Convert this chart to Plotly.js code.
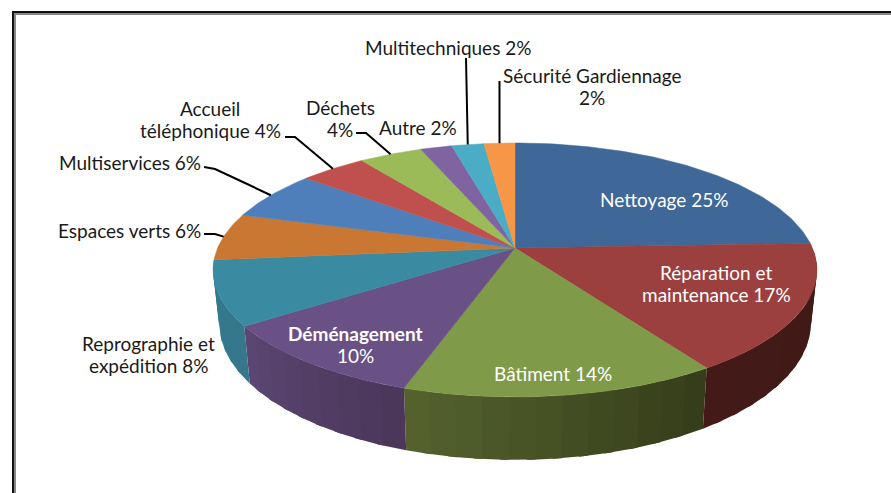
<!DOCTYPE html>
<html><head><meta charset="utf-8">
<script src="https://cdn.plot.ly/plotly-3.0.1.min.js"></script>
<style>html,body{margin:0;padding:0;background:#fff}#c{width:891px;height:493px}</style>
</head><body><div id="c"></div>
<script>
// Slice shares, clockwise from 12 o'clock
const categories = ["Nettoyage","Réparation et maintenance","Bâtiment","Déménagement","Reprographie et expédition","Espaces verts","Multiservices","Accueil téléphonique","Déchets","Autre","Multitechniques","Sécurité Gardiennage"];
const shares = [24.4,16.3,14.35,10.25,8.2,6,6.3,4.2,4,2,2.05,1.95];
const topColors = ["#3f6797","#9b403e","#7f9a48","#695185","#3a8aa2","#c97733","#4f7fbb","#c0504d","#9bbb59","#8064a2","#4bacc6","#f79646"];
const sideStart = ["#3f6797","#3f1a18","#343b19","#4a3659","#35788c","#a8642b","#4f7fbb","#c0504d","#9bbb59","#8064a2","#4bacc6","#f79646"];
const sideEnd   = ["#3f6797","#431a18","#55632e","#5c4673","#35788c","#a8642b","#4f7fbb","#c0504d","#9bbb59","#8064a2","#4bacc6","#f79646"];
const labels = [
 {t:"Multitechniques 2%",x:448,y:47,c:"#1a1a1a"},
 {t:"Sécurité Gardiennage|2%",x:592,y:86,c:"#1a1a1a"},
 {t:"Autre 2%",x:418,y:127,c:"#1a1a1a"},
 {t:"Déchets|4%",x:340,y:118,c:"#1a1a1a"},
 {t:"Accueil|téléphonique 4%",x:210,y:119,c:"#1a1a1a"},
 {t:"Multiservices 6%",x:130,y:162,c:"#1a1a1a"},
 {t:"Espaces verts 6%",x:129,y:230,c:"#1a1a1a"},
 {t:"Reprographie et|expédition 8%",x:148,y:354,c:"#1a1a1a"},
 {t:"Nettoyage 25%",x:664,y:199,c:"#fff"},
 {t:"Réparation et|maintenance 17%",x:716,y:283,c:"#fff"},
 {t:"Bâtiment 14%",x:553,y:373,c:"#fff"},
 {t:"Déménagement|10%",x:355,y:344,c:"#fff",bold:true}
];
// leader lines: slice index, then the pixel anchors near the label
const leaderSlices = [5,6,7,8,10,11];
const leaderX = [[204,215],[204,215,245],[285,295],[356,366],[466],[499.5]];
const leaderY = [[234,234],[167,169,183],[137,137],[133,133],[58],[81]];

// projection of the pie
const CX=515, CY=248, A=297.4, B=123.2, K=0.173, BOT_X=0.98, BOT_Y=1.08, BOT_C=299;
function topPt(p){const t=p/100*2*Math.PI,u=Math.sin(t),v=Math.cos(t),d=1+K*v;return [CX+A*u/d,CY-B*v/d];}
function botPt(p){const q=topPt(p);return [CX+BOT_X*(q[0]-CX),BOT_C+BOT_Y*(q[1]-CY)];}
function hex(c){return [1,3,5].map(i=>parseInt(c.substr(i,2),16));}
function mix(a,b,f){const x=hex(a),y=hex(b);return "rgb("+x.map((n,i)=>Math.round(n+(y[i]-n)*f)).join(",")+")";}

const traces=[];
const base={type:"scatter",mode:"lines",fill:"toself",hoverinfo:"skip",showlegend:false};
let cum=0;const starts=shares.map(s=>{const c=cum;cum+=s;return c;});
// sides (front-facing part)
const SIDE_MIN=24.41, SIDE_MAX=73.49;
shares.forEach((s,i)=>{
  const a=Math.max(starts[i],SIDE_MIN), b=Math.min(starts[i]+s,SIDE_MAX);
  if(b<=a) return;
  const n=Math.max(1,Math.ceil((b-a)/1.2));
  for(let j=0;j<n;j++){
    // each strip runs under the next one, so no seam shows between them
    const p0=a+(b-a)*j/n,p1=Math.min(b,a+(b-a)*(j+1)/n+0.4),xs=[],ys=[];
    for(let q=0;q<=6;q++){const r=topPt(p0+(p1-p0)*q/6);xs.push(r[0]);ys.push(r[1]);}
    for(let q=6;q>=0;q--){const r=botPt(p0+(p1-p0)*q/6);xs.push(r[0]);ys.push(r[1]);}
    const col=mix(sideStart[i],sideEnd[i],(j+.5)/n);
    traces.push(Object.assign({},base,{x:xs,y:ys,fillcolor:col,line:{width:0}}));
  }
});
// top face
shares.forEach((s,i)=>{
  const xs=[CX],ys=[CY],n=Math.ceil(s*4);
  for(let q=0;q<=n;q++){const r=topPt(starts[i]+s*q/n);xs.push(r[0]);ys.push(r[1]);}
  xs.push(CX);ys.push(CY);
  traces.push(Object.assign({},base,{name:categories[i],x:xs,y:ys,fillcolor:topColors[i],line:{color:topColors[i],width:.5}}));
});
// leaders
leaderSlices.forEach((si,i)=>{
  const e=topPt(starts[si]+shares[si]/2);
  traces.push({type:"scatter",mode:"lines",hoverinfo:"skip",showlegend:false,
    x:leaderX[i].concat([e[0]]),y:leaderY[i].concat([e[1]]),line:{color:"#000",width:2}});
});
const LINE_GAP=22;
const annotations=[];
labels.forEach(l=>{
  const parts=l.t.split("|");
  parts.forEach((txt,k)=>annotations.push({text:l.bold&&k==0?"<b>"+txt+"</b>":txt,x:l.x,y:l.y+(k-(parts.length-1)/2)*LINE_GAP,
    xref:"x",yref:"y",showarrow:false,xanchor:"center",yanchor:"middle",
    font:{family:"Lato, Carlito, sans-serif",size:19,color:l.c}}));
});
const layout={
  width:891,height:493,margin:{l:0,r:0,t:0,b:0},paper_bgcolor:"#fff",plot_bgcolor:"#fff",showlegend:false,
  xaxis:{range:[0,891],visible:false,fixedrange:true},
  yaxis:{range:[493,0],visible:false,fixedrange:true},
  annotations:annotations,
  shapes:[
   {type:"line",xref:"x",yref:"y",x0:12,x1:891,y0:12,y1:12,line:{color:"#111",width:2}},
   {type:"line",xref:"x",yref:"y",x0:14,x1:891,y0:14,y1:14,line:{color:"#888",width:2}},
   {type:"line",xref:"x",yref:"y",x0:13,x1:13,y0:11,y1:493,line:{color:"#111",width:2}},
   {type:"line",xref:"x",yref:"y",x0:15,x1:15,y0:13,y1:493,line:{color:"#888",width:2}}
  ]
};
Plotly.newPlot("c",traces,layout,{displayModeBar:false,staticPlot:true});
</script></body></html>
